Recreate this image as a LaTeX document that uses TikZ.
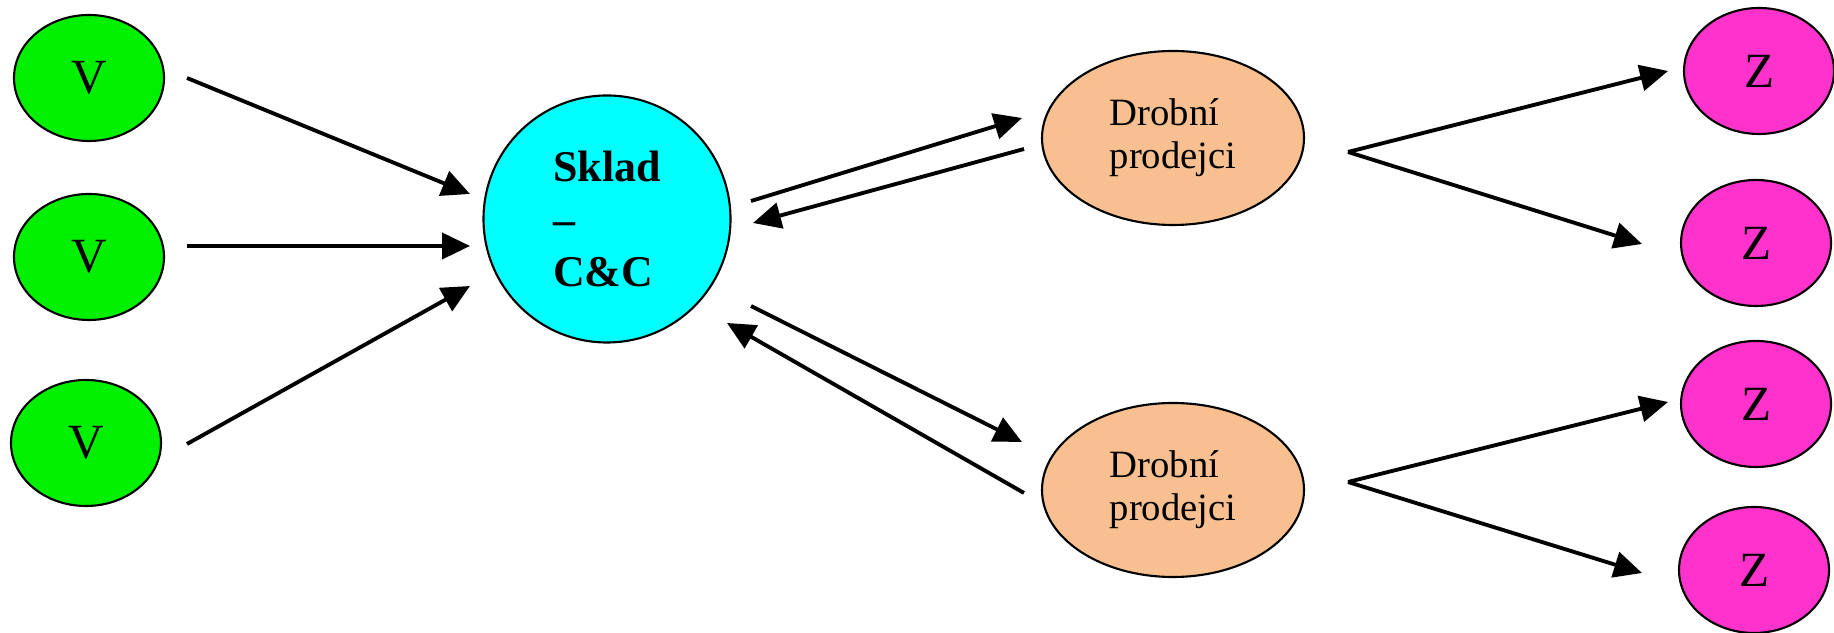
\documentclass[tikz,border=0pt]{standalone}
\usepackage{fontspec}
\setmainfont{Liberation Serif}
\usetikzlibrary{shapes.geometric,arrows.meta}
\definecolor{vgreen}{RGB}{0,240,0}
\definecolor{skladcyan}{RGB}{0,255,255}
\definecolor{drobpeach}{RGB}{248,192,144}
\definecolor{zpink}{RGB}{255,51,204}
\tikzset{
  vnode/.style={ellipse,draw,line width=0.6pt,fill=vgreen,minimum width=1.5cm,minimum height=1.26cm,inner sep=0pt,font=\fontsize{14}{16}\selectfont},
  znode/.style={ellipse,draw,line width=0.6pt,fill=zpink,minimum width=1.5cm,minimum height=1.26cm,inner sep=0pt,font=\fontsize{14}{16}\selectfont},
  sklad/.style={circle,draw,line width=0.6pt,fill=skladcyan,minimum size=2.47cm,inner sep=0pt,align=left,font=\bfseries\fontsize{12.5}{14.8}\selectfont},
  drob/.style={ellipse,draw,line width=0.6pt,fill=drobpeach,minimum width=2.62cm,minimum height=1.74cm,inner sep=0pt,align=left,font=\fontsize{11}{12.3}\selectfont},
  arr/.style={-{Triangle[length=2.8mm,width=2.6mm]},line width=1.1pt}
}
\begin{document}
\begin{tikzpicture}
			\useasboundingbox (0,0) rectangle (18.34,6.33);
			% suppliers
			\node[vnode] (v1) at (0.89,5.55) {V};
			\node[vnode] (v2) at (0.89,3.76) {V};
			\node[vnode] (v3) at (0.86,1.90) {V};
			% warehouse
			\node[sklad] (sklad) at (6.07,4.14) {Sklad\\–\\C\&C};
			% retailers
			\node[drob] (d1) at (11.73,4.95) {Drobní\\prodejci};
			\node[drob] (d2) at (11.73,1.43) {Drobní\\prodejci};
			% customers
			\node[znode] (z1) at (17.59,5.62) {Z};
			\node[znode] (z2) at (17.56,3.90) {Z};
			\node[znode] (z3) at (17.56,2.29) {Z};
			\node[znode] (z4) at (17.54,0.63) {Z};
			% arrow ends
			\coordinate (v1out) at (1.87,5.55);
			\coordinate (v2out) at (1.87,3.87);
			\coordinate (v3out) at (1.87,1.89);
			\coordinate (sin1) at (4.70,4.39);
			\coordinate (sin2) at (4.70,3.87);
			\coordinate (sin3) at (4.70,3.47);
			\coordinate (sout1) at (7.51,4.32);
			\coordinate (sback1) at (7.53,4.10);
			\coordinate (sout2) at (7.51,3.27);
			\coordinate (sback2) at (7.27,3.10);
			\coordinate (d1in) at (10.22,5.15);
			\coordinate (d1out) at (10.24,4.84);
			\coordinate (d2in) at (10.22,1.91);
			\coordinate (d2out) at (10.24,1.40);
			\coordinate (d1fork) at (13.48,4.81);
			\coordinate (d2fork) at (13.48,1.51);
			\coordinate (z1in) at (16.68,5.62);
			\coordinate (z2in) at (16.42,3.89);
			\coordinate (z3in) at (16.68,2.31);
			\coordinate (z4in) at (16.42,0.60);
			% arrows
			\draw[arr] (v1out) -- (sin1);
			\draw[arr] (v2out) -- (sin2);
			\draw[arr] (v3out) -- (sin3);
			\draw[arr] (sout1) -- (d1in);
			\draw[arr] (d1out) -- (sback1);
			\draw[arr] (sout2) -- (d2in);
			\draw[arr] (d2out) -- (sback2);
			\draw[arr] (d1fork) -- (z1in);
			\draw[arr] (d1fork) -- (z2in);
			\draw[arr] (d2fork) -- (z3in);
			\draw[arr] (d2fork) -- (z4in);
\end{tikzpicture}
\end{document}
